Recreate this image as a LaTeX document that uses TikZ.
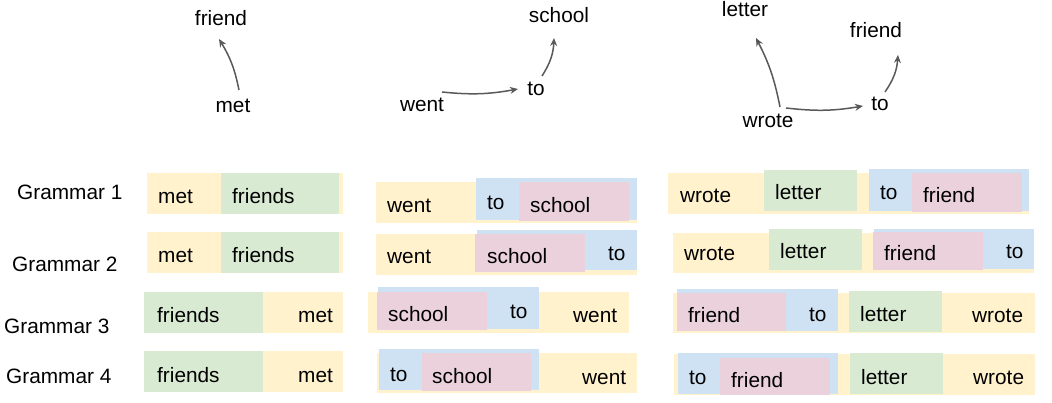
\documentclass[tikz,border=0pt]{standalone}
\usepackage{fontspec}
\setmainfont{Liberation Sans}
\usetikzlibrary{arrows.meta,calc}
\newcommand\wordfont{\fontsize{20.8}{24}\selectfont}
\definecolor{cyel}{HTML}{FFF2CC}
\definecolor{cgrn}{HTML}{D9EAD3}
\definecolor{cblu}{HTML}{CFE2F3}
\definecolor{cpnk}{HTML}{EAD1DC}
\definecolor{carr}{HTML}{595959}
\tikzset{
  wd/.style={anchor=base west, inner sep=0pt, font=\wordfont, text=black},
  tw/.style={anchor=base, inner sep=0pt, font=\wordfont, text=black},
  yel/.style={fill=cyel},
  grn/.style={fill=cgrn},
  blu/.style={fill=cblu},
  pnk/.style={fill=cpnk},
  arr/.style={draw=carr, line width=1.5pt, -{Stealth[length=8pt,width=7pt]}}
}
\begin{document}
\begin{tikzpicture}[x=1pt,y=-1pt]
\useasboundingbox (0,0) rectangle (1052,403);
% ---------- top dependency graphs ----------
\node[tw] (tfriend) at (221,26) {friend};
\node[tw] (tmet) at (233,113) {met};
\draw[arr] ($(tmet.base)+(6,-23)$) to[bend right=10] ($(tfriend.base)+(-2,13)$);

\node[tw] (tschool) at (559,23) {school};
\node[tw] (tto) at (536,96) {to};
\node[tw] (twent) at (422,112) {went};
\draw[arr] ($(twent.base)+(20,-20)$) to[bend right=8] ($(tto.base)+(-18,-7)$);
\draw[arr] ($(tto.base)+(6,-20)$) to[bend right=15] ($(tschool.base)+(-5,15)$);

\node[tw] (tletter) at (745,17) {letter};
\node[tw] (tfriendb) at (876,38) {friend};
\node[tw] (ttob) at (880,111) {to};
\node[tw] (twrote) at (768,128) {wrote};
\draw[arr] ($(twrote.base)+(12,-21)$) to[bend right=8] ($(tletter.base)+(11,21)$);
\draw[arr] ($(twrote.base)+(18,-20)$) to[bend right=8] ($(ttob.base)+(-17,-5)$);
\draw[arr] ($(ttob.base)+(5,-19)$) to[bend right=15] ($(tfriendb.base)+(22,17)$);

% ---------- grammar labels ----------
\node[wd] (g1) at (17,200) {Grammar 1};
\node[wd] (g2) at (12,272) {Grammar 2};
\node[wd] (g3) at (4,333) {Grammar 3};
\node[wd] (g4) at (6,383) {Grammar 4};

% ---------- group 1 ----------
\fill[yel] (147,173) rectangle (343,214);
\fill[grn] (221,173) rectangle (339,214);
\node[wd] (a1met) at (158,204) {met};
\node[wd] (a1fr) at (232,204) {friends};

\fill[yel] (147,232) rectangle (343,273);
\fill[grn] (221,232) rectangle (339,273);
\node[wd] (a2met) at (158,263) {met};
\node[wd] (a2fr) at (232,263) {friends};

\fill[grn] (144,292) rectangle (263,333);
\fill[yel] (263,292) rectangle (343,333);
\node[wd] (a3fr) at (157,323) {friends};
\node[wd] (a3met) at (298,323) {met};

\fill[grn] (144,351) rectangle (263,392);
\fill[yel] (263,351) rectangle (343,392);
\node[wd] (a4fr) at (157,382) {friends};
\node[wd] (a4met) at (298,382) {met};

% ---------- group 2 ----------
\fill[yel] (376,182) rectangle (637,223);
\fill[blu] (476,178) rectangle (637,220);
\fill[pnk] (519,182) rectangle (629,221);
\node[wd] (b1went) at (387,213) {went};
\node[wd] (b1to) at (487,210) {to};
\node[wd] (b1sc) at (530,213) {school};

\fill[yel] (376,234) rectangle (637,275);
\fill[blu] (477,230) rectangle (637,270);
\fill[pnk] (475,234) rectangle (585,272);
\node[wd] (b2went) at (387,264) {went};
\node[wd] (b2sc) at (487,264) {school};
\node[wd] (b2to) at (608,261) {to};

\fill[yel] (368,292) rectangle (629,333);
\fill[blu] (378,287) rectangle (539,329);
\fill[pnk] (377,292) rectangle (487,330);
\node[wd] (b3sc) at (388,322) {school};
\node[wd] (b3to) at (510,319) {to};
\node[wd] (b3went) at (573,323) {went};

\fill[yel] (377,353) rectangle (637,393);
\fill[blu] (379,349) rectangle (539,390);
\fill[pnk] (422,353) rectangle (531,391);
\node[wd] (b4to) at (390,381) {to};
\node[wd] (b4sc) at (432,383) {school};
\node[wd] (b4went) at (582,384) {went};

% ---------- group 3 ----------
\fill[yel] (668,173) rectangle (1029,214);
\fill[grn] (764,170) rectangle (857,211);
\fill[blu] (869,169) rectangle (1029,211);
\fill[pnk] (912,173) rectangle (1022,212);
\node[wd] (c1wr) at (680,203) {wrote};
\node[wd] (c1le) at (775,200) {letter};
\node[wd] (c1to) at (880,200) {to};
\node[wd] (c1fr) at (923,203) {friend};

\fill[yel] (673,233) rectangle (1034,273);
\fill[grn] (769,229) rectangle (862,270);
\fill[blu] (874,229) rectangle (1034,269);
\fill[pnk] (873,232) rectangle (983,270);
\node[wd] (c2wr) at (684,261) {wrote};
\node[wd] (c2le) at (780,259) {letter};
\node[wd] (c2fr) at (884,261) {friend};
\node[wd] (c2to) at (1006,259) {to};

\fill[yel] (673,293) rectangle (1035,333);
\fill[blu] (677,289) rectangle (838,331);
\fill[pnk] (677,293) rectangle (786,331);
\fill[grn] (849,291) rectangle (942,332);
\node[wd] (c3fr) at (688,323) {friend};
\node[wd] (c3to) at (809,321) {to};
\node[wd] (c3le) at (860,322) {letter};
\node[wd] (c3wr) at (972,323) {wrote};

\fill[yel] (674,354) rectangle (1035,395);
\fill[blu] (678,353) rectangle (838,394);
\fill[pnk] (720,358) rectangle (830,395);
\fill[grn] (850,353) rectangle (943,394);
\node[wd] (c4to) at (689,384) {to};
\node[wd] (c4fr) at (731,387) {friend};
\node[wd] (c4le) at (861,384) {letter};
\node[wd] (c4wr) at (973,384) {wrote};
\end{tikzpicture}
\end{document}
